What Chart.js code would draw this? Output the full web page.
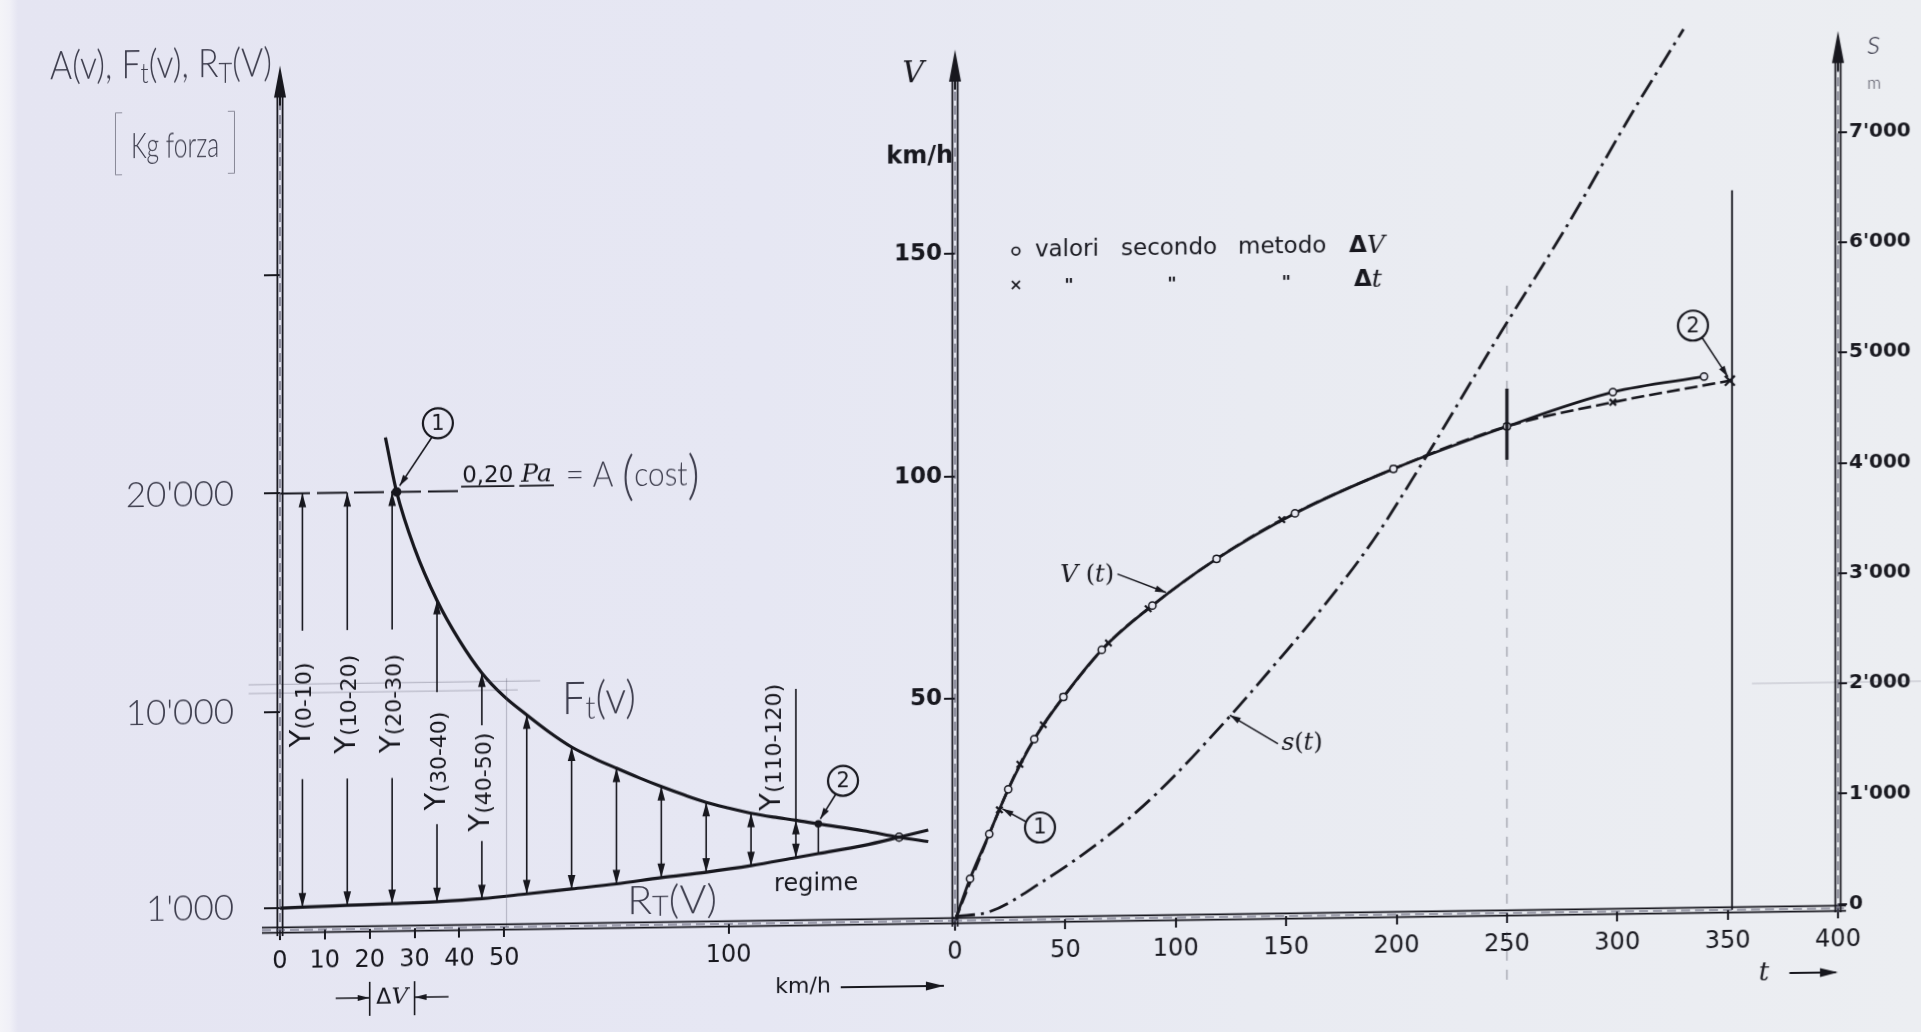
<!DOCTYPE html>
<html lang="it">
<head>
<meta charset="UTF-8">
<title>Diagramma di trazione e moto</title>
<style>
  html, body { margin: 0; padding: 0; }
  body {
    width: 1921px; height: 1032px; overflow: hidden; position: relative;
    background: linear-gradient(90deg, #f4f4f8 0px, #f0f0f7 10px, #e5e5f2 18px, #e6e7f3 760px, #e9ebf2 1250px, #eceef2 1921px);
  }
  /* the scanned sheet is slightly sheared: horizontal lines rise to the right */
  #sheet { position: absolute; left: 0; top: 0; width: 1921px; height: 1032px;
           transform: skewY(-0.8deg); transform-origin: 0 0; }
  #leftBox { position: absolute; left: 0; top: 0; width: 960px; height: 1032px; }
  #rightBox { position: absolute; left: 880px; top: 0; width: 1041px; height: 1032px; }
</style>
</head>
<body>
<div id="sheet">
  <div id="leftBox"><canvas id="forceChart" width="960" height="1032"></canvas></div>
  <div id="rightBox"><canvas id="motionChart" width="1041" height="1032"></canvas></div>
</div>

<script src="https://cdn.jsdelivr.net/npm/chart.js"></script>
<script>
// ---------- left diagram: forces against speed (km/h, kg forza)
const speedTicks = [0, 10, 20, 30, 40, 50, 100];
const forceTicks = [1000, 10000, 20000, 30000];
const forceTickLabels = ["1'000", "10'000", "20'000", ""];

const speedA = [0, 40];
const forceA = [20000, 20000];

const speedFt = [23.5, 26, 30, 35, 40, 45, 50, 55, 60, 65, 70, 75, 80, 85, 90, 95, 100, 105, 110, 115, 120, 130, 138, 144.5];
const forceFt = [22500, 20000, 17400, 15000, 13150, 11650, 10550, 9700, 8900, 8200, 7670, 7200, 6750, 6330, 5940, 5580, 5300, 5050, 4860, 4700, 4520, 4180, 3860, 3640];

const speedRt = [0, 5, 15, 25, 35, 45, 55, 65, 75, 85, 95, 105, 115, 120, 130, 138, 144.5];
const forceRt = [1000, 1040, 1090, 1140, 1200, 1310, 1500, 1700, 1900, 2160, 2380, 2650, 2990, 3160, 3500, 3860, 4170];

// marked points: (1) adhesion limit, (2), regime crossing
const markSpeed = [26, 120, 138];
const markForce = [20000, 4520, 3860];

// accelerating force Y for every 10 km/h step
const arrowSpeed  = [5, 15, 25, 35, 45, 55, 65, 75, 85, 95, 105, 115];
const arrowTop    = [20000, 20000, 20000, 15000, 11650, 9700, 8200, 7200, 6330, 5580, 5050, 4700];
const arrowBottom = [1040, 1090, 1140, 1200, 1310, 1500, 1700, 1900, 2160, 2380, 2650, 2990];
const arrowLabels    = ['(0-10)', '(10-20)', '(20-30)', '(30-40)', '(40-50)'];
const labelGapTop    = [13700, 13700, 13700, 10800, 9250];
const labelGapBottom = [6900, 6900, 6900, 4750, 3950];
const labelCenter    = [10300, 10300, 10300, 7650, 6650];

// faint pencil construction lines on the sheet
const guideSpeedA = [-7, 58];
const guideForceA = [11250, 11250];
const guideSpeedB = [-7, 53];
const guideForceB = [10850, 10850];
const guideSpeedC = [50.5, 50.5];
const guideForceC = [11400, 0];

// ---------- right diagram: speed and distance against time
const timeTicks = [0, 50, 100, 150, 200, 250, 300, 350, 400];
const speedAxisTicks = [50, 100, 150];
const distTicks = [0, 1000, 2000, 3000, 4000, 5000, 6000, 7000];
const distTickLabels = ['0', "1'000", "2'000", "3'000", "4'000", "5'000", "6'000", "7'000"];

// circles: step by step in speed (ΔV), crosses: step by step in time (Δt)
const timeDV  = [0, 6.8, 15.5, 24.1, 35.9, 49.1, 66.5, 89.4, 118.5, 154, 198.6, 250, 298, 339.3];
const speedDV = [0, 9.4, 19.4, 29.4, 40.6, 50.0, 60.5, 70.3, 80.6, 90.6, 100.3, 109.5, 116.9, 120.1];

const timeDT  = [0, 20.1, 29.4, 40, 49.1, 69.5, 87.5, 118.5, 148, 198.6, 250, 298, 351];
const speedDT = [0, 24.8, 35.0, 43.8, 50.0, 62.0, 69.6, 80.6, 89.2, 100.3, 109.5, 114.6, 119.1];

const timeS = [0, 16, 38.5, 68.7, 91.4, 123, 144, 166.8, 189.5, 210.6, 247, 277, 305.7, 330];
const distS = [0, 40, 289, 703, 1090, 1746, 2223, 2761, 3359, 4018, 5217, 6176, 7165, 7951];

const endTime = [352, 352];
const endSpeed = [0, 161.9];
const guideTime = [250, 250];
const guideSpeed = [-15, 142];
const guideTimeS = [361, 440];
const guideDistS = [2010, 2010];

// ---------- styling
const INK = '#17171e';
const PEN = '#3d3d4d';
const PAPER = '#e8e9f2';
const FAINT = 'rgba(80,80,100,0.30)';
const PRINT = '"DejaVu Sans", "Liberation Sans", sans-serif';
const SERIF = '"DejaVu Serif", "Liberation Serif", serif';
const HAND = 'Lato, "Open Sans", sans-serif';

function pts(xs, ys) { return xs.map((x, i) => ({x: x, y: ys[i]})); }

function line(ctx, x1, y1, x2, y2) {
  ctx.beginPath(); ctx.moveTo(x1, y1); ctx.lineTo(x2, y2); ctx.stroke();
}

// double ruled axis like the drawing
function axisPair(ctx, x1, y1, x2, y2) {
  const len = Math.hypot(x2 - x1, y2 - y1);
  const nx = -(y2 - y1) / len * 2.6, ny = (x2 - x1) / len * 2.6;
  ctx.save();
  ctx.strokeStyle = INK; ctx.lineWidth = 1.8;
  line(ctx, x1 + nx, y1 + ny, x2 + nx, y2 + ny);
  line(ctx, x1 - nx, y1 - ny, x2 - nx, y2 - ny);
  ctx.strokeStyle = '#55556a'; ctx.lineWidth = 1.2; ctx.setLineDash([9, 5]);
  line(ctx, x1, y1, x2, y2);
  ctx.restore();
}

function axisTip(ctx, x, yTip) {
  ctx.save(); ctx.fillStyle = INK; ctx.strokeStyle = INK; ctx.lineWidth = 2;
  line(ctx, x, yTip + 20, x, yTip + 40);
  ctx.beginPath(); ctx.moveTo(x, yTip); ctx.lineTo(x - 6, yTip + 32); ctx.lineTo(x + 6, yTip + 32);
  ctx.closePath(); ctx.fill();
  ctx.restore();
}

function head(ctx, x, y, ang, len, half) {
  len = len || 14; half = half || 3.8;
  ctx.save(); ctx.translate(x, y); ctx.rotate(ang);
  ctx.beginPath(); ctx.moveTo(0, 0); ctx.lineTo(-len, -half); ctx.lineTo(-len, half); ctx.closePath(); ctx.fill();
  ctx.restore();
}

function leader(ctx, x1, y1, x2, y2) {
  line(ctx, x1, y1, x2, y2);
  head(ctx, x2, y2, Math.atan2(y2 - y1, x2 - x1), 11, 3.2);
}

// text made of pieces: [text, font, dy]; optional target width squeezes it
function rich(ctx, parts, x, y, align, targetW) {
  let w = 0;
  parts.forEach(p => { ctx.font = p[1]; w += ctx.measureText(p[0]).width; });
  const k = targetW ? targetW / w : 1;
  ctx.save();
  ctx.translate(x, y); ctx.scale(k, 1);
  let cx = align === 'center' ? -w / 2 : align === 'right' ? -w : 0;
  ctx.textAlign = 'left';
  parts.forEach(p => { ctx.font = p[1]; ctx.fillText(p[0], cx, p[2] || 0); cx += ctx.measureText(p[0]).width; });
  ctx.restore();
  return w * k;
}

function badge(ctx, x, y, txt) {
  ctx.save();
  ctx.strokeStyle = INK; ctx.lineWidth = 2.2;
  ctx.beginPath(); ctx.arc(x, y, 15, 0, Math.PI * 2); ctx.stroke();
  ctx.fillStyle = INK; ctx.font = '21px ' + PRINT; ctx.textAlign = 'center'; ctx.textBaseline = 'middle';
  ctx.fillText(txt, x, y + 1);
  ctx.restore();
}

function yLabel(ctx, x, y, sub) {
  ctx.save(); ctx.translate(x, y); ctx.rotate(-Math.PI / 2);
  ctx.textBaseline = 'middle'; ctx.fillStyle = INK;
  rich(ctx, [['Y', '29px ' + PRINT, 0], [sub, '22px ' + PRINT, 3]], 0, 0, 'center');
  ctx.restore();
}

const forceDecor = {
  id: 'forceDecor',
  afterDatasetsDraw(chart) {
    const {ctx, chartArea: a, scales: {x, y}} = chart;
    const px = v => x.getPixelForValue(v), py = f => y.getPixelForValue(f);
    ctx.save();
    ctx.fillStyle = INK; ctx.strokeStyle = INK;

    // axes
    axisPair(ctx, a.left, a.bottom + 6, a.left, py(39600) + 28);
    axisTip(ctx, a.left, py(39600));
    axisPair(ctx, a.left - 18, a.bottom, a.right + 2, a.bottom);

    // Y arrows
    ctx.lineWidth = 1.6;
    arrowSpeed.forEach((v, i) => {
      const xv = px(v), yt = py(arrowTop[i]), yb = py(arrowBottom[i]);
      if (i < labelGapTop.length) {
        line(ctx, xv, yt, xv, py(labelGapTop[i]));
        line(ctx, xv, py(labelGapBottom[i]), xv, yb);
        yLabel(ctx, xv, py(labelCenter[i]), arrowLabels[i]);
      } else {
        line(ctx, xv, yt, xv, yb);
      }
      head(ctx, xv, yt, -Math.PI / 2);
      head(ctx, xv, yb, Math.PI / 2);
    });
    // Y(110-120) reference line and label, line of point (2)
    line(ctx, px(115), py(10720), px(115), py(4700));
    yLabel(ctx, px(109.8), py(8060), '(110-120)');
    line(ctx, px(120), py(4520), px(120), py(3160));

    // 0,20 Pa = A (cost)
    ctx.textBaseline = 'alphabetic';
    ctx.font = '23px ' + PRINT; ctx.textAlign = 'left';
    const x0 = px(40.6), y0 = py(20380);
    ctx.fillText('0,20', x0, y0);
    const w1 = ctx.measureText('0,20').width;
    ctx.lineWidth = 1.7;
    line(ctx, x0 - 1, y0 + 4, x0 + w1 + 1, y0 + 4);
    ctx.font = 'italic 25px ' + SERIF;
    const xPa = x0 + w1 + 8;
    ctx.fillText('Pa', xPa, y0);
    line(ctx, xPa - 2, y0 + 4, xPa + ctx.measureText('Pa').width + 2, y0 + 4);

    ctx.fillStyle = PEN; ctx.textBaseline = 'middle';
    rich(ctx, [['= A ', '300 36px ' + HAND, 0], ['(', '300 54px ' + HAND, 2], ['cost', '300 34px ' + HAND, 0], [')', '300 54px ' + HAND, 2]],
      px(63.7), py(20630), 'left', 134);
    // Ft(v), RT(V)
    rich(ctx, [['F', '300 46px ' + HAND, 0], ['t', '300 32px ' + HAND, 9], ['(v)', '300 46px ' + HAND, 0]],
      px(71.1), py(10390), 'center', 74);
    rich(ctx, [['R', '300 40px ' + HAND, 0], ['T', '300 28px ' + HAND, 6], ['(V)', '300 40px ' + HAND, 0]],
      px(87.4), py(1110), 'center', 90);

    // axis title
    ctx.textBaseline = 'alphabetic';
    rich(ctx, [['A(v), F', '300 40px ' + HAND, 0], ['t', '300 28px ' + HAND, 5], ['(v), R', '300 40px ' + HAND, 0],
      ['T', '300 28px ' + HAND, 6], ['(V)', '300 40px ' + HAND, 0]], 161, 80, 'center', 222);
    rich(ctx, [['[', '200 72px ' + HAND, 8], [' Kg forza ', '300 36px ' + HAND, 0], [']', '200 72px ' + HAND, 8]],
      175, 160, 'center', 130);

    // regime
    ctx.fillStyle = INK; ctx.textBaseline = 'middle'; ctx.textAlign = 'center';
    ctx.font = '24px ' + PRINT;
    ctx.fillText('regime', px(119.5), py(1750));

    // badges
    ctx.lineWidth = 1.6;
    badge(ctx, px(35.2), py(23120), '1');
    leader(ctx, px(35.2) - 6, py(23120) + 14, px(26) + 3, py(20000) - 6);
    badge(ctx, px(125.5), py(6480), '2');
    leader(ctx, px(125.5) - 7, py(6480) + 13, px(120) + 2, py(4520) - 5);

    // delta V marker under the axis
    const yb = a.bottom + 69, xl = px(20), xr = px(30);
    ctx.lineWidth = 1.6;
    line(ctx, xl, yb - 16, xl, yb + 18);
    line(ctx, xr, yb - 16, xr, yb + 18);
    line(ctx, xl - 34, yb, xl, yb); head(ctx, xl, yb, 0, 12, 3);
    line(ctx, xr + 34, yb, xr, yb); head(ctx, xr, yb, Math.PI, 12, 3);
    ctx.textBaseline = 'middle';
    rich(ctx, [['Δ', '22px ' + PRINT, 0], ['V', 'italic 23px ' + SERIF, 0]], (xl + xr) / 2, yb, 'center');

    // km/h ->
    ctx.font = '22px ' + PRINT; ctx.textAlign = 'left';
    ctx.fillText('km/h', px(110.4), a.bottom + 64);
    ctx.lineWidth = 1.8;
    line(ctx, px(125), a.bottom + 65, px(148), a.bottom + 65);
    head(ctx, px(148), a.bottom + 65, 0, 18, 4.5);
    ctx.restore();
  }
};

const forceChart = new Chart(document.getElementById('forceChart'), {
  type: 'scatter',
  data: {
    datasets: [
      { label: 'guida', data: pts(guideSpeedA, guideForceA), showLine: true, borderColor: FAINT, borderWidth: 1.2, pointRadius: 0, clip: false },
      { label: 'guida', data: pts(guideSpeedB, guideForceB), showLine: true, borderColor: FAINT, borderWidth: 1.2, pointRadius: 0, clip: false },
      { label: 'guida', data: pts(guideSpeedC, guideForceC), showLine: true, borderColor: FAINT, borderWidth: 1.2, pointRadius: 0, clip: false },
      { label: 'A (cost)', data: pts(speedA, forceA), showLine: true, borderColor: INK, borderWidth: 2,
        borderDash: [30, 7], pointRadius: 0 },
      { label: 'Ft(v)', data: pts(speedFt, forceFt), showLine: true, borderColor: INK, borderWidth: 3.2,
        cubicInterpolationMode: 'monotone', pointRadius: 0 },
      { label: 'RT(V)', data: pts(speedRt, forceRt), showLine: true, borderColor: INK, borderWidth: 3.2,
        cubicInterpolationMode: 'monotone', pointRadius: 0 },
      { label: 'punti', data: pts(markSpeed, markForce), showLine: false, pointRadius: [4, 3, 4],
        pointBackgroundColor: [INK, INK, PAPER], pointBorderColor: INK, pointBorderWidth: 1.5 }
    ]
  },
  options: {
    responsive: false, animation: false, events: [],
    layout: { padding: { top: 40, right: 7, left: 0, bottom: 0 } },
    plugins: { legend: { display: false }, tooltip: { enabled: false } },
    scales: {
      x: {
        type: 'linear', min: 0, max: 150,
        afterBuildTicks: s => { s.ticks = speedTicks.map(v => ({value: v})); },
        afterFit: s => { s.height = 98; },
        grid: { drawOnChartArea: false, drawTicks: true, tickLength: 10, color: INK, lineWidth: 2 },
        border: { display: false },
        ticks: { color: INK, font: { family: PRINT, size: 24 }, padding: 7, maxRotation: 0, autoSkip: false }
      },
      y: {
        type: 'linear', min: 0, max: 40450,
        afterBuildTicks: s => { s.ticks = forceTicks.map(v => ({value: v})); },
        afterFit: s => { s.width = 280; },
        grid: { drawOnChartArea: false, drawTicks: true, tickLength: 16, color: INK, lineWidth: 2 },
        border: { display: false },
        ticks: { color: PEN, font: { family: HAND, size: 35, weight: 300 }, padding: 30,
                 callback: (v, i) => forceTickLabels[i] }
      }
    }
  },
  plugins: [forceDecor]
});

const motionDecor = {
  id: 'motionDecor',
  afterDatasetsDraw(chart) {
    const {ctx, chartArea: a, scales: {x, y, s}} = chart;
    const px = t => x.getPixelForValue(t), py = v => y.getPixelForValue(v), ps = d => s.getPixelForValue(d);
    ctx.save();
    ctx.fillStyle = INK; ctx.strokeStyle = INK;

    // axes
    axisPair(ctx, a.left, a.bottom + 6, a.left, py(196) + 28);
    axisTip(ctx, a.left, py(196));
    axisPair(ctx, a.left - 2, a.bottom, a.right + 8, a.bottom);
    axisPair(ctx, a.right, a.bottom + 4, a.right, ps(7915) + 28);
    axisTip(ctx, a.right, ps(7915));

    // axis names
    ctx.textBaseline = 'middle'; ctx.textAlign = 'center';
    ctx.font = 'italic 30px ' + SERIF;
    ctx.fillText('V', a.left - 42, py(190.5));
    ctx.font = 'bold 24px ' + PRINT; ctx.textAlign = 'right';
    ctx.fillText('km/h', a.left - 2, py(172));
    ctx.font = 'italic 26px ' + SERIF; ctx.textAlign = 'center';
    ctx.fillText('t', px(366.5), a.bottom + 64);
    ctx.lineWidth = 1.8;
    line(ctx, px(378), a.bottom + 64, px(399), a.bottom + 64);
    head(ctx, px(400), a.bottom + 64, 0, 18, 4.5);
    ctx.fillStyle = PEN;
    ctx.font = 'italic 300 34px ' + HAND;
    ctx.fillText('s', a.right + 36, ps(7800));
    ctx.font = '300 17px ' + HAND;
    ctx.fillText('m', a.right + 36, ps(7440));
    ctx.fillStyle = INK;

    // legend
    const yl1 = py(150.5), yl2 = py(142.9);
    ctx.lineWidth = 1.7;
    ctx.beginPath(); ctx.arc(px(27.6), yl1, 3.8, 0, Math.PI * 2); ctx.stroke();
    line(ctx, px(27.6) - 4, yl2 - 4, px(27.6) + 4, yl2 + 4);
    line(ctx, px(27.6) - 4, yl2 + 4, px(27.6) + 4, yl2 - 4);
    ctx.font = '23px ' + PRINT; ctx.textAlign = 'left';
    ctx.fillText('valori', px(36.2), yl1);
    ctx.fillText('secondo', px(75.2), yl1);
    ctx.fillText('metodo', px(128.2), yl1);
    rich(ctx, [['Δ', 'bold 23px ' + PRINT, 0], ['V', 'italic 25px ' + SERIF, 0]], px(178.5), yl1, 'left');
    ctx.font = 'bold 18px ' + PRINT; ctx.textAlign = 'center';
    [51.6, 98.3, 150].forEach(t => ctx.fillText('"', px(t), yl2 + 2));
    rich(ctx, [['Δ', 'bold 23px ' + PRINT, 0], ['t', 'italic 25px ' + SERIF, 0]], px(180.7), yl2, 'left');

    // curve names
    rich(ctx, [['V', 'italic 25px ' + SERIF, 0], [' (', '24px ' + SERIF, 0], ['t', 'italic 24px ' + SERIF, 0], [')', '24px ' + SERIF, 0]],
      px(59.8), py(77.3), 'center');
    ctx.lineWidth = 1.5;
    leader(ctx, px(73.6), py(77.5), px(95.6), py(73.2));
    rich(ctx, [['s', 'italic 25px ' + SERIF, 0], ['(', '24px ' + SERIF, 0], ['t', 'italic 24px ' + SERIF, 0], [')', '24px ' + SERIF, 0]],
      px(157.2), py(38.8), 'center');
    leader(ctx, px(146.3), py(38.8), px(124.5), ps(1790));

    // badges
    badge(ctx, px(38.5), py(20.7), '1');
    leader(ctx, px(38.5) - 14, py(20.7) - 6, px(20.1) + 3, py(24.8) - 1);
    badge(ctx, px(334.3), py(131.6), '2');
    leader(ctx, px(334.3) + 9, py(131.6) + 12, px(351) - 2, py(119.1) - 4);

    // heavy check mark at t = 250
    ctx.lineWidth = 3.2;
    line(ctx, px(250), py(118), px(250), py(102));
    ctx.restore();
  }
};

const motionChart = new Chart(document.getElementById('motionChart'), {
  type: 'scatter',
  data: {
    datasets: [
      { label: 'guida 250', data: pts(guideTime, guideSpeed), showLine: true, borderColor: 'rgba(60,60,75,0.45)',
        borderWidth: 1.2, borderDash: [10, 9], pointRadius: 0, clip: false },
      { label: 'guida 2000', data: pts(guideTimeS, guideDistS), yAxisID: 's', showLine: true, borderColor: FAINT,
        borderWidth: 1.2, pointRadius: 0, clip: false },
      { label: 'V(t) metodo ΔV', data: pts(timeDV, speedDV), showLine: true, borderColor: INK, borderWidth: 2.8,
        cubicInterpolationMode: 'monotone', pointStyle: 'circle',
        pointRadius: c => c.dataIndex === 0 ? 0 : 3.6, pointBackgroundColor: PAPER, pointBorderColor: INK, pointBorderWidth: 1.5 },
      { label: 'V(t) metodo Δt', data: pts(timeDT, speedDT), showLine: true, borderColor: INK, borderWidth: 2.6,
        borderDash: [13, 5], cubicInterpolationMode: 'monotone', pointStyle: 'crossRot',
        pointRadius: c => c.dataIndex === 0 ? 0 : (c.dataIndex === timeDT.length - 1 ? 7 : 4.5),
        pointBorderColor: INK, pointBorderWidth: 2.2 },
      { label: 's(t)', data: pts(timeS, distS), yAxisID: 's', showLine: true, borderColor: INK, borderWidth: 2.8,
        borderDash: [20, 6, 3, 6], cubicInterpolationMode: 'monotone', pointRadius: 0 },
      { label: 'fine', data: pts(endTime, endSpeed), showLine: true, borderColor: INK, borderWidth: 1.8, pointRadius: 0 }
    ]
  },
  options: {
    responsive: false, animation: false, events: [],
    layout: { padding: { top: 40, right: 0, left: 0, bottom: 0 } },
    plugins: { legend: { display: false }, tooltip: { enabled: false } },
    scales: {
      x: {
        type: 'linear', min: 0, max: 400,
        afterBuildTicks: sc => { sc.ticks = timeTicks.map(v => ({value: v})); },
        afterFit: sc => { sc.height = 98; },
        grid: { drawOnChartArea: false, drawTicks: true, tickLength: 10, color: INK, lineWidth: 2 },
        border: { display: false },
        ticks: { color: INK, font: { family: PRINT, size: 24 }, padding: 7, maxRotation: 0, autoSkip: false }
      },
      y: {
        type: 'linear', position: 'left', min: 0, max: 201.2,
        afterBuildTicks: sc => { sc.ticks = speedAxisTicks.map(v => ({value: v})); },
        afterFit: sc => { sc.width = 75; },
        grid: { drawOnChartArea: false, drawTicks: true, tickLength: 11, color: INK, lineWidth: 2 },
        border: { display: false },
        ticks: { color: INK, font: { family: PRINT, size: 23, weight: 'bold' }, padding: 2 }
      },
      s: {
        type: 'linear', position: 'right', min: -39, max: 8067,
        afterBuildTicks: sc => { sc.ticks = distTicks.map(v => ({value: v})); },
        afterFit: sc => { sc.width = 83; },
        grid: { drawOnChartArea: false, drawTicks: true, tickLength: 9, color: INK, lineWidth: 2 },
        border: { display: false },
        ticks: { color: INK, font: { family: PRINT, size: 20, weight: 'bold' }, padding: 2,
                 callback: (v, i) => distTickLabels[i] }
      }
    }
  },
  plugins: [motionDecor]
});
</script>
</body>
</html>
